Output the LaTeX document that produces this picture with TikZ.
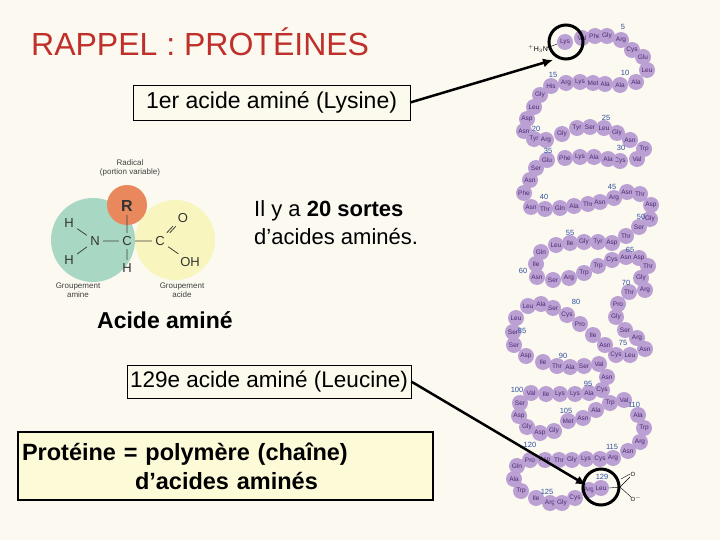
\documentclass[tikz,border=0pt]{standalone}
\usepackage{fontspec}
\setmainfont{Liberation Sans}
\usetikzlibrary{arrows.meta}
\definecolor{bg}{HTML}{FBF9F0}
\definecolor{boxc}{HTML}{FCFAEC}
\definecolor{beadc}{HTML}{BBA0D4}
\definecolor{beadt}{HTML}{4A2A70}
\definecolor{numc}{HTML}{3050A0}
\definecolor{redt}{HTML}{C0302A}
\definecolor{greenc}{HTML}{A8D8C4}
\definecolor{yelc}{HTML}{F8F6BE}
\definecolor{orc}{HTML}{E8885C}
\definecolor{b3c}{HTML}{FDFAD8}
\begin{document}
\begin{tikzpicture}[x=1pt,y=-1pt,
  bead/.style={circle,fill=beadc,inner sep=0pt,minimum size=16pt,font=\fontsize{6.5}{7}\selectfont,text=beadt},
  num/.style={font=\fontsize{7.5}{7.5}\selectfont,text=numc},
  lbox/.style={draw=black,fill=boxc,inner sep=0pt},
  mol/.style={font=\fontsize{13}{14}\selectfont,text=black!80},
  captxt/.style={font=\fontsize{8}{9.5}\selectfont,text=black!75,align=center},
  arr/.style={line width=2.5pt,-{Latex[length=10pt,width=9pt]}}]
\fill[bg] (0,0) rectangle (720,540);
\useasboundingbox (0,0) rectangle (720,540);
\node[anchor=west,text=redt,font=\fontsize{32}{34}\selectfont,inner sep=0pt] (title) at (31,42) {RAPPEL : PROTÉINES};
% beads
\foreach \x/\y/\t in {582/38/Val,595/36/Phe,607/36/Gly,621/40/Arg,632/50/Cys,643/57/Glu,647/70/Leu,636/82/Ala,620/85/Ala,605/84/Ala,593/83/Met,580/82/Lys,566/83/Arg,551/86/His,540/95/Gly,534/107/Leu,527/119/Asp,524/131/Asn,534/139/Tyr,546/140/Arg,562/134/Gly,577/128/Tyr,590/127/Ser,604/128/Leu,617/133/Gly,630/140/Asn,644/149/Trp,637/159/Val,620/161/Cys,608/159/Ala,594/157/Ala,580/157/Lys,565/158/Phe,547/160/Glu,536/168/Ser,530/180/Asn,524/193/Phe,531/207/Asn,545/209/Thr,560/208/Gln,574/206/Ala,588/204/Thr,600/202/Asn,614/198/Arg,627/192/Asn,640/194/Thr,651/205/Asp,650/219/Gly,639/227/Ser,626/236/Thr,612/243/Asp,598/242/Tyr,584/242/Gly,570/243/Ile,556/245/Leu,541/252/Gln,536/264/Ile,537/277/Asn,553/280/Ser,569/278/Arg,584/273/Trp,598/266/Trp,612/260/Cys,626/257/Asn,639/258/Asp,648/266/Thr,641/278/Gly,645/290/Arg,629/292/Thr,618/304/Pro,616/317/Gly,625/330/Ser,637/338/Arg,645/349/Asn,630/355/Leu,616/355/Cys,605/345/Asn,593/335/Ile,580/324/Pro,567/315/Cys,553/308/Ser,541/304/Ala,528/306/Leu,516/318/Leu,513/332/Ser,514/345/Ser,526/356/Asp,543/362/Ile,557/366/Thr,570/367/Ala,584/366/Ser,599/364/Val,607/377/Asn,602/390/Cys,589/393/Ala,575/394/Lys,560/394/Lys,546/394/Ile,531/393/Val,520/403/Ser,519/416/Asp,527/427/Gly,540/433/Asp,554/431/Gly,568/421/Met,583/418/Asn,596/410/Ala,610/403/Trp,624/400/Val,638/415/Ala,644/428/Trp,640/442/Arg,628/451/Asn,613/458/Arg,600/459/Cys,586/459/Lys,572/460/Gly,559/460/Thr,545/460/Asp,530/460/Pro,517/466/Gln,514/479/Ala,521/491/Trp,536/498/Ile,550/503/Arg,562/503/Gly,575/498/Cys,589/490/Arg,565/42/Lys,601/488/Leu}
  \node[bead] at (\x,\y) {\t};
\foreach \x/\y/\t in {623/27/5,625/73/10,553/75/15,536/129/20,606/118/25,621/148/30,548/151/35,544/197/40,612/187/45,641/217/50,570/233/55,523/271/60,630/250/65,626/283/70,623/343/75,576/302/80,522/331/85,563/356/90,588/384/95,517/390/100,566/411/105,634/405/110,612/447/115,530/445/120,547/492/125,602/477/129}
  \node[num] at (\x,\y) {\t};
\node[font=\fontsize{7}{7}\selectfont] (h3n) at (538,49) {$^+$H$_3$N};
\draw[thin] (547,48) -- (557,44);
\coordinate (cc) at (620,487);
\draw[thin] (609,488) -- (cc) -- (630,477) (621,479) -- (630,474) (cc) -- (631,497);
\node[font=\fontsize{6}{6}\selectfont] at (633,474) {O};
\node[font=\fontsize{6}{6}\selectfont] at (636,499) {O$^-$};
\node[draw,circle,line width=3pt,minimum size=34pt,inner sep=0pt] (c1) at (566,42) {};
\node[draw,circle,line width=3pt,minimum size=36pt,inner sep=0pt] (c2) at (601,487) {};
% boxes
\node[lbox,minimum width=277pt,minimum height=35pt,font=\fontsize{23}{24}\selectfont] (b1) at (271.5,102.5) {1er acide aminé (Lysine)};
\node[lbox,minimum width=284pt,minimum height=33pt,font=\fontsize{22.5}{24}\selectfont] (b2) at (269,381.5) {129e acide aminé (Leucine)};
\node[lbox,line width=1.5pt,fill=b3c,minimum width=415pt,minimum height=68pt,text width=407pt,inner xsep=4pt,font=\bfseries\fontsize{23.5}{29}\selectfont,align=left] (b3) at (225.5,466) {Protéine = polymère (chaîne)\\\hspace*{113pt}d'acides aminés};
\draw[arr] (b1.east) -- (553,60);
\draw[arr] (b2.east) -- (586,485);
\node[anchor=north west,align=left,font=\fontsize{22}{28}\selectfont,inner sep=0pt] (t20) at (254,200) {Il y a \textbf{20 sortes}\\d'acides aminés.};
\node[anchor=west,font=\bfseries\fontsize{23}{24}\selectfont,inner sep=0pt] (aa) at (97,320) {Acide aminé};
% molecule
\fill[greenc] (93,240) circle (42);
\fill[yelc] (175,240) circle (40);
\fill[orc] (127,205) circle (20);
\node[font=\bfseries\fontsize{16}{16}\selectfont,text=black!80] (R) at (127,206) {R};
\node[mol] (H1) at (69,223) {H};
\node[mol] (H2) at (69,260) {H};
\node[mol] (N) at (95,241) {N};
\node[mol] (C1) at (127,241) {C};
\node[mol] (H3) at (127,268) {H};
\node[mol] (C2) at (160,241) {C};
\node[mol] (O) at (183,218) {O};
\node[mol] (OH) at (190,262) {OH};
\draw[black!75,thick] (H1) -- (N) (H2) -- (N) (N) -- (C1) (C1) -- (C2) (C1) -- (H3) (C1) -- (R);
\draw[black!75,thick] ([xshift=-1.5pt]C2.north east) -- ([xshift=-1.5pt]O.south west) ([xshift=1.5pt]C2.north east) -- ([xshift=1.5pt]O.south west) (C2) -- (OH);
\node[captxt] (rad) at (130,168) {Radical\\(portion variable)};
\node[captxt] (ga) at (78,290) {Groupement\\amine};
\node[captxt] (gc) at (182,290) {Groupement\\acide};
\end{tikzpicture}
\end{document}
